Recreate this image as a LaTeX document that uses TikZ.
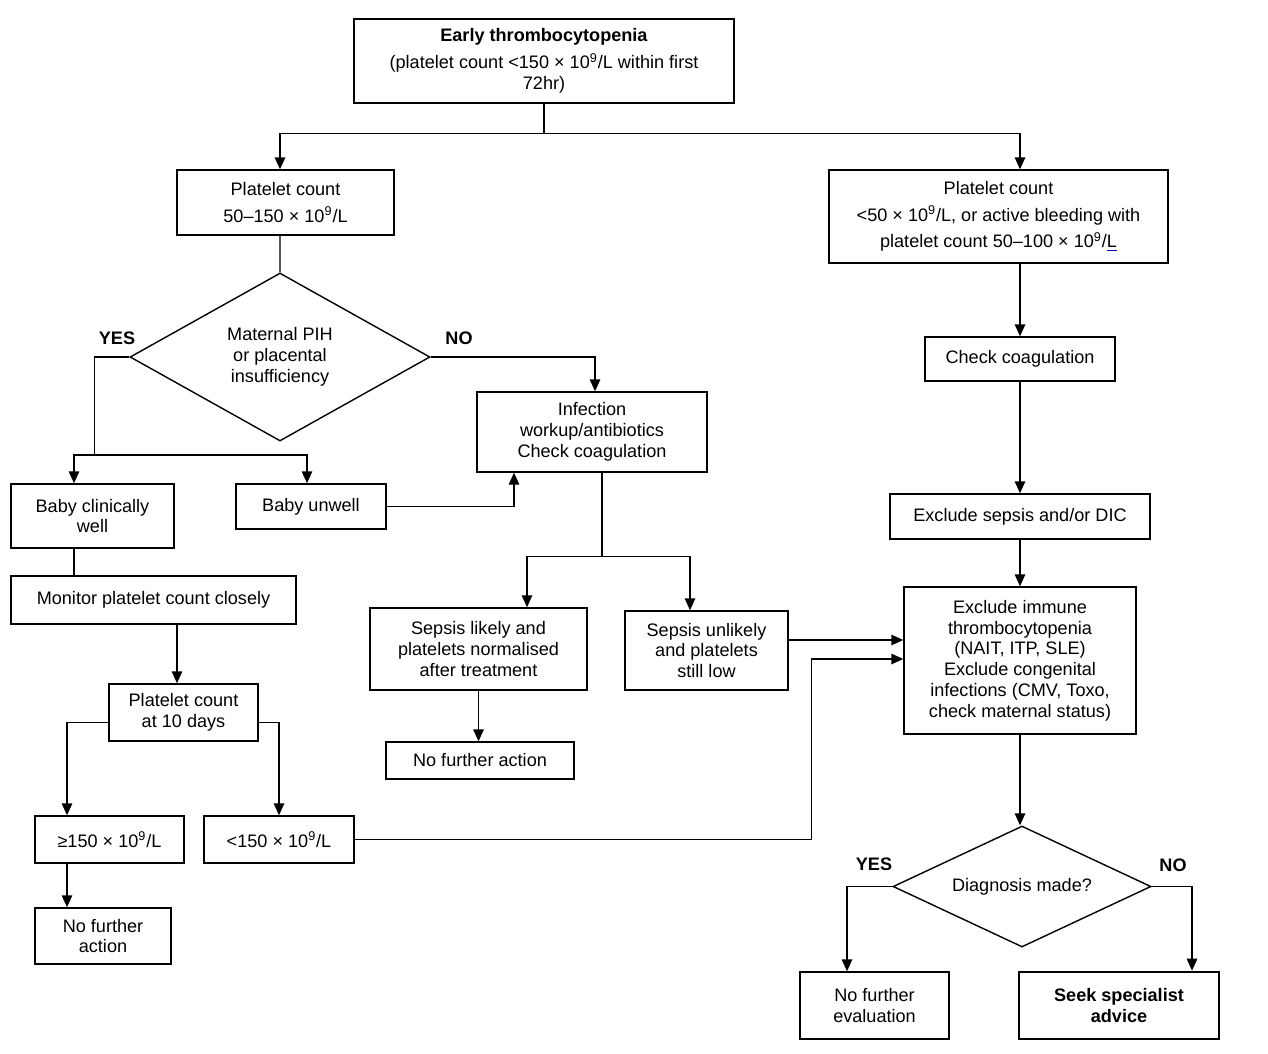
\documentclass[tikz,border=0pt]{standalone}
\usepackage{fontspec}
\setmainfont{Liberation Sans}
\usepackage{xcolor}
\usepackage{tikz}
\usetikzlibrary{arrows.meta,positioning,shapes.geometric,calc}
\tikzset{
  >={Triangle[length=2.4mm,width=2.1mm]},
  every node/.style={font=\fontsize{10.3pt}{11.8pt}\selectfont},
  block/.style={draw, line width=0.8pt, align=center, inner sep=1pt},
  thickblock/.style={block, line width=1.5pt},
  decision/.style={diamond, draw, line width=0.8pt, align=center, inner sep=0pt},
  lab/.style={font=\fontsize{10.3pt}{11.8pt}\selectfont\bfseries, inner sep=0pt},
  link/.style={line width=0.8pt},
}
\newcommand{\tnine}{10\textsuperscript{9}}

\begin{document}
\begin{tikzpicture}[x=0.2mm, y=-0.2mm]
  \useasboundingbox (0,0) rectangle (1268,1053);

  % top
  \node[block, minimum width=76mm, minimum height=16.8mm] (top) at (544,61)
    {\textbf{Early thrombocytopenia}\\[3.4pt](platelet count <150 × \tnine/L within first\\72hr)};

  % left branch
  \node[block, minimum width=43.4mm, minimum height=13mm] (pc1) at (285.5,202.5)
    {Platelet count\\[3.4pt]50–150 × \tnine/L};
  \node[decision, aspect=1.79, minimum width=60mm, minimum height=33.6mm] (pih) at (280,357)
    {Maternal PIH\\ or placental\\insufficiency};
  \node[lab] (yes1) at (117,338) {YES};
  \node[lab] (no1) at (459,338) {NO};
  \node[block, minimum width=46mm, minimum height=16mm] (infect) at (592,432)
    {Infection\\workup/antibiotics\\Check coagulation};
  \node[block, minimum width=32.6mm, minimum height=12.8mm] (well) at (92.5,516)
    {Baby clinically\\well};
  \node[block, minimum width=30mm, minimum height=9mm] (unwell) at (311,506.5)
    {Baby unwell};
  \node[block, minimum width=57mm, minimum height=9.6mm] (monitor) at (153.5,600)
    {Monitor platelet count closely};
  \node[block, minimum width=29.8mm, minimum height=11.4mm] (pc10) at (183.5,712.5)
    {Platelet count\\at 10 days};
  \node[block, minimum width=29.8mm, minimum height=9.4mm] (hi150) at (109.5,839.5)
    {≥150 × \tnine/L};
  \node[block, minimum width=30mm, minimum height=9.4mm] (lo150) at (279,839.5)
    {<150 × \tnine/L};
  \node[block, minimum width=27.2mm, minimum height=11.2mm] (nfa1) at (103,936)
    {No further\\action};
  \node[block, minimum width=43.4mm, minimum height=16.4mm] (sepsl) at (478.5,649)
    {Sepsis likely and\\platelets normalised\\after treatment};
  \node[block, minimum width=32.6mm, minimum height=15.8mm] (sepsu) at (706.5,650.5)
    {Sepsis unlikely\\and platelets\\still low};
  \node[block, minimum width=37.6mm, minimum height=7.4mm] (nfa2) at (480,760.5)
    {No further action};

  % right branch
  \node[block, minimum width=67.8mm, minimum height=18.6mm] (pc2) at (998.5,216.5)
    {Platelet count\\[3.4pt]<50 × \tnine/L, or active bleeding with\\[3.4pt]platelet count 50–100 × \tnine/{\color{blue!80!black}\underline{\textcolor{black}{L}}}};
  \node[block, minimum width=38mm, minimum height=8.8mm] (coag) at (1020,359)
    {Check coagulation};
  \node[block, minimum width=52mm, minimum height=9mm] (exsep) at (1020,516.5)
    {Exclude sepsis and/or DIC};
  \node[block, minimum width=46.4mm, minimum height=29.4mm] (immune) at (1020,660.5)
    {Exclude immune\\thrombocytopenia\\(NAIT, ITP, SLE)\\Exclude congenital\\infections (CMV, Toxo,\\check maternal status)};
  \node[decision, aspect=2.13, minimum width=51.6mm, minimum height=24.2mm] (diag) at (1022,886.5)
    {Diagnosis made?};
  \node[lab] (yes2) at (874,864) {YES};
  \node[lab] (no2) at (1173,865) {NO};
  \node[block, minimum width=29.8mm, minimum height=13.4mm] (nfe) at (874.5,1005.5)
    {No further\\evaluation};
  \node[thickblock, minimum width=40mm, minimum height=13.4mm] (seek) at (1119,1005.5)
    {\textbf{Seek specialist}\\\textbf{advice}};

  % connectors
  \draw[link] (top.south) -- ++(0,30) coordinate (t1);
  \draw[link,->] (t1) -| ([xshift=-1.1mm]pc1.north);
  \draw[link,->] (t1) -| ([xshift=4.3mm]pc2.north);
  \draw[link] ([xshift=-1.1mm]pc1.south) -- (pih.north);

  \draw[link] (pih.west) -- ++(-35,0) -- ++(0,98) coordinate (y1);
  \draw[link,->] (y1) -| ([xshift=-3.7mm]well.north);
  \draw[link,->] (y1) -| ([xshift=-0.8mm]unwell.north);
  \draw[link,->] (pih.east) -| ([xshift=0.6mm]infect.north);
  \draw[link,->] (unwell.east) -| ([xshift=-15.6mm]infect.south);

  \draw[link] ([xshift=2mm]infect.south) -- ++(0,84) coordinate (i1);
  \draw[link,->] (i1) -| ([xshift=9.7mm]sepsl.north);
  \draw[link,->] (i1) -| ([xshift=-3.3mm]sepsu.north);
  \draw[link,->] (sepsl.south) -- (sepsl.south |- nfa2.north);
  \draw[link,->] ([yshift=2.1mm]sepsu.east) -- ([yshift=2.1mm]sepsu.east -| immune.west);

  \draw[link] ([xshift=-3.7mm]well.south) -- ([xshift=-3.7mm]well.south |- monitor.north);
  \draw[link,->] ([xshift=-1.3mm]pc10.north |- monitor.south) -- ([xshift=-1.3mm]pc10.north);
  \draw[link,->] ([yshift=-2mm]pc10.west) -| ([xshift=-8.5mm]hi150.north);
  \draw[link,->] ([yshift=-2mm]pc10.east) -| (lo150.north);
  \draw[link,->] ([xshift=-8.5mm]hi150.south) -- ([xshift=-8.5mm]hi150.south |- nfa1.north);
  \draw[link,->] (lo150.east) -- ++(457,0) |- ([yshift=0.3mm]immune.west);

  \draw[link,->] (pc2.south -| coag.north) -- (coag.north);
  \draw[link,->] (coag.south) -- (exsep.north);
  \draw[link,->] (exsep.south) -- (immune.north);
  \draw[link,->] (immune.south) -- (immune.south |- diag.north);
  \draw[link,->] (diag.west) -| ([xshift=-5.5mm]nfe.north);
  \draw[link,->] (diag.east) -| ([xshift=14.6mm]seek.north);
\end{tikzpicture}
\end{document}
